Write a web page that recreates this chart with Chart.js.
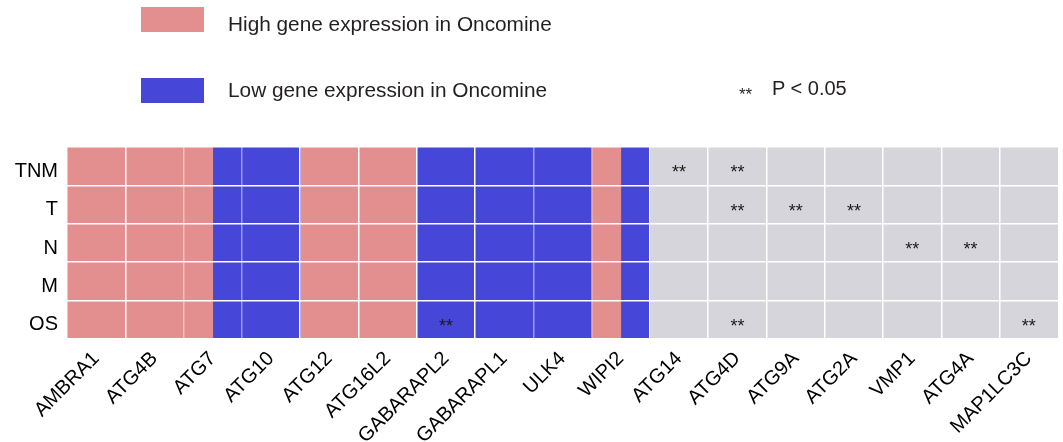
<!DOCTYPE html>
<html>
<head>
<meta charset="utf-8">
<script src="https://cdn.jsdelivr.net/npm/chart.js@4/dist/chart.umd.min.js"></script>
<style>
  html, body { margin: 0; padding: 0; background: #fff; }
  #wrap { position: relative; width: 1063px; height: 442px; font-family: "Liberation Sans", Arial, sans-serif; color: #231f20; }
  #wrap canvas { position: absolute; left: 0; top: 0; }
  .swatch { position: absolute; left: 141px; width: 63px; height: 25px; }
  .ltext { position: absolute; font-size: 20.8px; line-height: 20px; white-space: nowrap; }
</style>
</head>
<body>
<div id="wrap">
  <canvas id="chart" width="1063" height="442"></canvas>
  <div class="swatch" id="swHigh" style="top:7px"></div>
  <div class="ltext" style="left:228px;top:14px">High gene expression in Oncomine</div>
  <div class="swatch" id="swLow" style="top:78px"></div>
  <div class="ltext" style="left:228px;top:80px">Low gene expression in Oncomine</div>
  <div class="ltext" style="left:739px;top:86px;font-size:17px;line-height:17px">**</div>
  <div class="ltext" style="left:772px;top:78px;font-size:20px">P &lt; 0.05</div>
</div>
<script>
// Autophagy-related genes (columns) and clinical parameters (rows)
const genes = ['AMBRA1', 'ATG4B', 'ATG7', 'ATG10', 'ATG12', 'ATG16L2', 'GABARAPL2', 'GABARAPL1',
               'ULK4', 'WIPI2', 'ATG14', 'ATG4D', 'ATG9A', 'ATG2A', 'VMP1', 'ATG4A', 'MAP1LC3C'];
const clinical = ['TNM', 'T', 'N', 'M', 'OS'];

// Oncomine expression call for the left / right half of each gene column (null = no call)
const oncomineLeft  = ['High', 'High', 'High', 'Low', 'High', 'High', 'Low', 'Low', 'Low', 'High',
                       null, null, null, null, null, null, null];
const oncomineRight = ['High', 'High', 'Low', 'Low', 'High', 'High', 'Low', 'Low', 'Low', 'Low',
                       null, null, null, null, null, null, null];

// Significant associations (P < 0.05): gene and clinical parameter
const sigGene  = ['ATG14', 'ATG4D', 'ATG4D', 'ATG9A', 'ATG2A', 'VMP1', 'ATG4A', 'GABARAPL2', 'ATG4D', 'MAP1LC3C'];
const sigParam = ['TNM', 'TNM', 'T', 'T', 'T', 'N', 'N', 'OS', 'OS', 'OS'];

const COLORS = { High: '#E38F90', Low: '#4647D8', none: '#D6D5DB' };
const FONT = '"Liberation Sans", Arial, sans-serif';
// column boundaries where the white separator is only faintly visible
const faintBoundaries = [2, 3, 8, 9];

document.getElementById('swHigh').style.background = COLORS.High;
document.getElementById('swLow').style.background = COLORS.Low;

// merge consecutive half-columns with the same call into horizontal segments
const segments = [];
for (let h = 0; h < genes.length * 2; h++) {
  const i = Math.floor(h / 2);
  const level = (h % 2 ? oncomineRight[i] : oncomineLeft[i]) || 'none';
  const last = segments[segments.length - 1];
  if (last && last.level === level) last.end = (h + 1) / 2;
  else segments.push({ level, start: h / 2, end: (h + 1) / 2 });
}

const barSets = segments.map(s => ({
  type: 'bar',
  data: clinical.map(() => [s.start, s.end]),
  backgroundColor: COLORS[s.level],
  borderWidth: 0,
  grouped: false,
  barPercentage: 1,
  categoryPercentage: 1
}));

const starSet = {
  type: 'scatter',
  data: sigGene.map((g, k) => ({ x: genes.indexOf(g) + 0.5, y: sigParam[k] })),
  pointRadius: 0,
  pointHoverRadius: 0
};

// draws the "**" significance markers at the scatter points
const starMarks = {
  id: 'starMarks',
  afterDatasetsDraw(chart) {
    const idx = chart.data.datasets.indexOf(starSet);
    const meta = chart.getDatasetMeta(idx);
    const ctx = chart.ctx;
    ctx.save();
    ctx.font = '18px ' + FONT;
    ctx.fillStyle = '#1a1a1a';
    ctx.textAlign = 'center';
    ctx.textBaseline = 'alphabetic';
    meta.data.forEach(pt => ctx.fillText('**', pt.x, pt.y + 12));
    ctx.restore();
  }
};

Chart.defaults.font.family = FONT;

new Chart(document.getElementById('chart'), {
  type: 'bar',
  data: { labels: clinical, datasets: [...barSets, starSet] },
  options: {
    indexAxis: 'y',
    responsive: false,
    animation: false,
    events: [],
    layout: { padding: { top: 147, right: 5, left: 0, bottom: 0 } },
    plugins: { legend: { display: false }, tooltip: { enabled: false } },
    scales: {
      x: {
        type: 'linear',
        min: 0,
        max: genes.length,
        afterBuildTicks: scale => {
          const t = [];
          for (let v = 0; v <= genes.length * 2; v++) t.push({ value: v / 2 });
          scale.ticks = t;
        },
        afterFit: scale => {
          scale.height = 103;
          scale.paddingLeft = 0;
          scale.paddingRight = 0;
        },
        border: { display: false },
        grid: {
          z: 1,
          drawTicks: false,
          lineWidth: 1.5,
          color: ctx => {
            const v = ctx.tick ? ctx.tick.value : -1;
            if (!Number.isInteger(v) || v === 0 || v === genes.length) return 'rgba(0,0,0,0)';
            return faintBoundaries.includes(v) ? 'rgba(255,255,255,0.45)' : '#ffffff';
          }
        },
        ticks: {
          autoSkip: false,
          minRotation: 45,
          maxRotation: 45,
          padding: 8,
          color: '#000',
          font: { size: 20 },
          callback: v => (Number.isInteger(v) ? '' : genes[Math.floor(v)])
        }
      },
      y: {
        type: 'category',
        labels: clinical,
        offset: true,
        afterFit: scale => { scale.width = 67; },
        border: { display: false },
        grid: { offset: true, z: 1, drawTicks: false, lineWidth: 1.5, color: '#ffffff' },
        ticks: { padding: 9, labelOffset: 5, color: '#000', font: { size: 20 } }
      }
    }
  },
  plugins: [starMarks]
});
</script>
</body>
</html>
